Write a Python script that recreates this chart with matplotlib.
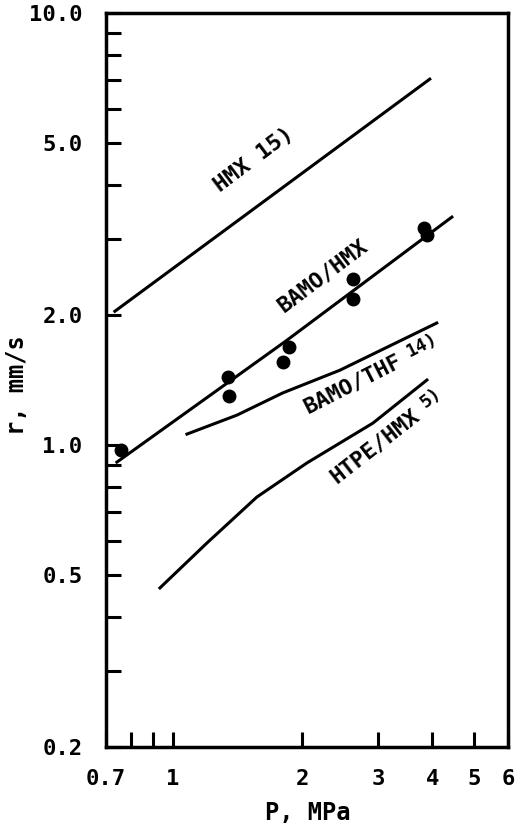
import matplotlib
matplotlib.use("Agg")
import matplotlib.pyplot as plt
from matplotlib.ticker import FixedLocator, FixedFormatter, NullFormatter

plt.rcParams['font.family'] = ['DejaVu Sans Mono']
plt.rcParams['font.weight'] = 'bold'

# Data (P in MPa, r in mm/s)
bamo_hmx_pts_p = [0.758, 1.343, 1.35, 1.86, 1.80, 2.62, 2.62, 3.83, 3.89]
bamo_hmx_pts_r = [0.974, 1.437, 1.298, 1.686, 1.556, 2.42, 2.18, 3.18, 3.06]

hmx_p = [0.734, 3.95]
hmx_r = [2.04, 7.03]

bamo_hmx_p = [0.742, 1.831, 4.445]
bamo_hmx_r = [0.913, 1.741, 3.37]

bamo_thf_p = [1.079, 1.41, 1.80, 2.443, 4.10]
bamo_thf_r = [1.06, 1.173, 1.32, 1.49, 1.916]

htpe_hmx_p = [0.934, 1.20, 1.568, 2.049, 2.915, 3.89]
htpe_hmx_r = [0.467, 0.593, 0.758, 0.909, 1.124, 1.414]

x_major = [0.7, 1, 2, 3, 4, 5, 6]
x_major_labels = ['0.7', '1', '2', '3', '4', '5', '6']
x_minor = [0.8, 0.9]
y_major = [0.2, 0.5, 1.0, 2.0, 5.0, 10.0]
y_major_labels = ['0.2', '0.5', '1.0', '2.0', '5.0', '10.0']
y_minor = [0.3, 0.4, 0.6, 0.7, 0.8, 0.9, 3, 4, 6, 7, 8, 9]

W, H = 515, 824
fig = plt.figure(figsize=(W / 100, H / 100), dpi=100)
L, R, T, B = 106, 508, 13, 747
ax = fig.add_axes([L / W, 1 - B / H, (R - L) / W, (B - T) / H])
ax.set_xscale('log')
ax.set_yscale('log')
ax.set_xlim(0.7, 6)
ax.set_ylim(0.2, 10)

lw = 2.2
ax.plot(hmx_p, hmx_r, color='black', lw=lw)
ax.plot(bamo_hmx_p, bamo_hmx_r, color='black', lw=lw)
ax.plot(bamo_thf_p, bamo_thf_r, color='black', lw=lw)
ax.plot(htpe_hmx_p, htpe_hmx_r, color='black', lw=lw)
ax.plot(bamo_hmx_pts_p, bamo_hmx_pts_r, 'o', color='black', ms=9, clip_on=False)

for s in ax.spines.values():
    s.set_linewidth(2.5)

ax.xaxis.set_major_locator(FixedLocator(x_major))
ax.xaxis.set_major_formatter(FixedFormatter(x_major_labels))
ax.xaxis.set_minor_locator(FixedLocator(x_minor))
ax.xaxis.set_minor_formatter(NullFormatter())
ax.yaxis.set_major_locator(FixedLocator(y_major))
ax.yaxis.set_major_formatter(FixedFormatter(y_major_labels))
ax.yaxis.set_minor_locator(FixedLocator(y_minor))
ax.yaxis.set_minor_formatter(NullFormatter())

for which in ('major', 'minor'):
    ax.tick_params(axis='both', which=which, direction='in', length=11, width=2.2,
                   top=False, right=False)
ax.tick_params(axis='y', which='major', labelsize=16, pad=17)
ax.tick_params(axis='x', which='major', labelsize=16, pad=15.5)

fs = 16


def place(text, xp, yp, rot, size=fs):
    # pixel coords from top-left
    fig.text(xp / W, 1 - yp / H, text, fontsize=size, rotation=rot,
             ha='center', va='center', rotation_mode='anchor')

place('HMX 15)', 254, 160, 37)
place('BAMO/HMX', 323, 276, 37)
place('BAMO/THF', 353, 384, 27)
place('14)', 422, 345, 27, 13)
place('HTPE/HMX', 375, 446, 38)
place('5)', 431, 398, 38, 13)

fig.text(17 / W, 1 - 385 / H, 'r, mm/s', fontsize=17, rotation=90,
         ha='center', va='center')
fig.text(308 / W, 1 - 813 / H, 'P, MPa', fontsize=17, ha='center', va='center')

fig.savefig('out.png', dpi=100)
